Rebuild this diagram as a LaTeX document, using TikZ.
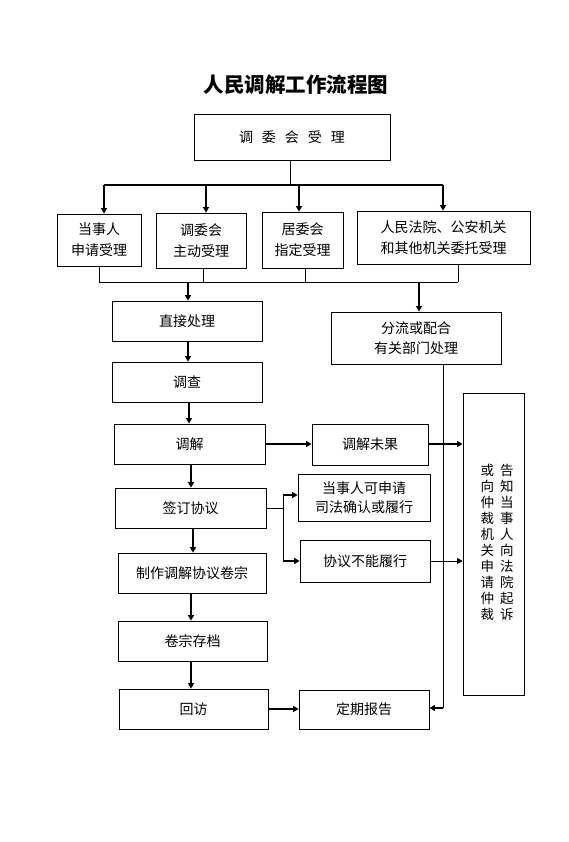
\documentclass[tikz,border=0pt]{standalone}
\usepackage{fontspec}
\newfontfamily\cjk{Noto Sans CJK SC}
\usetikzlibrary{arrows.meta}
\begin{document}
\begin{tikzpicture}[x=1pt,y=-1pt,
  box/.style={draw, line width=0.8pt, inner sep=0pt, font=\cjk\fontsize{14}{21}\selectfont, align=center},
  thinln/.style={line width=0.8pt},
  thickln/.style={line width=1.8pt},
  arr/.style={line width=1.8pt, -{Triangle[length=5.5pt,width=6pt]}},
  arrthin/.style={line width=0.8pt, -{Triangle[length=5.5pt,width=6pt]}},
]
\useasboundingbox (0,0) rectangle (569,842);
\node[font=\cjk\bfseries\fontsize{20.5}{24}\selectfont] (title) at (296,85) {人民调解工作流程图};

\node[box, minimum width=196pt, minimum height=46pt] (top) at (292,137) {调\hspace{9pt}委\hspace{9pt}会\hspace{9pt}受\hspace{9pt}理};
\node[box, minimum width=84pt, minimum height=52pt] (A) at (99,240) {当事人\\申请受理};
\node[box, minimum width=90pt, minimum height=55pt] (B) at (201,240.5) {调委会\\主动受理};
\node[box, minimum width=81pt, minimum height=56pt] (C) at (302.5,240) {居委会\\指定受理};
\node[box, minimum width=173pt, minimum height=53pt] (D) at (443.5,237.5) {人民法院、公安机关\\和其他机关委托受理};
\node[box, minimum width=150pt, minimum height=40pt] (E) at (187,321) {直接处理};
\node[box, minimum width=170pt, minimum height=52pt, font=\cjk\fontsize{14}{19.5}\selectfont] (F) at (416,338) {分流或配合\\有关部门处理};
\node[box, minimum width=150pt, minimum height=40pt] (G) at (187,382) {调查};
\node[box, minimum width=151pt, minimum height=40pt] (H) at (189.5,444) {调解};
\node[box, minimum width=116pt, minimum height=41pt] (I) at (370,444.5) {调解未果};
\node[box, minimum width=61pt, minimum height=302pt, font=\cjk\fontsize{13.5}{15.2}\selectfont] (J) at (493.5,544)
  {\begin{tabular}{@{\hspace{7pt}}c@{\hspace{6pt}}c@{}}
   或&告\\ 向&知\\ 仲&当\\ 裁&事\\ 机&人\\ 关&向\\ 申&法\\ 请&院\\ 仲&起\\ 裁&诉
   \end{tabular}};
\node[box, minimum width=151pt, minimum height=40pt] (K) at (190.5,508) {签订协议};
\node[box, minimum width=132pt, minimum height=47pt, font=\cjk\fontsize{14}{19.5}\selectfont] (L) at (364,497.5) {当事人可申请\\司法确认或履行};
\node[box, minimum width=130pt, minimum height=42pt] (M) at (365,561) {协议不能履行};
\node[box, minimum width=148pt, minimum height=40pt] (N) at (192,573) {制作调解协议卷宗};
\node[box, minimum width=149pt, minimum height=40pt] (O) at (192.5,641) {卷宗存档};
\node[box, minimum width=149pt, minimum height=40pt] (P) at (193.5,709) {回访};
\node[box, minimum width=130pt, minimum height=39pt] (Q) at (364,709.5) {定期报告};

% top distribution
\coordinate (t) at (290,185);
\coordinate (h1) at (104,185);
\coordinate (h2) at (206,185);
\coordinate (h3) at (299,185);
\coordinate (h4) at (443,185);
\draw[thinln] (top.south -| t) -- (t);
\draw[thickln] (h1) -- (h4);
\draw[arr] (h1) -- (h1 |- A.north);
\draw[arr] (h2) -- (h2 |- B.north);
\draw[arr] (h3) -- (h3 |- C.north);
\draw[arr] (h4) -- (h4 |- D.north);

% collect
\coordinate (b1) at (99,282);
\coordinate (b2) at (203,282);
\coordinate (b3) at (305,282);
\coordinate (b4) at (458,282);
\coordinate (e1) at (188,282);
\coordinate (f1) at (419,282);
\draw[thinln] (A.south -| b1) -- (b1);
\draw[thinln] (B.south -| b2) -- (b2);
\draw[thinln] (C.south -| b3) -- (b3);
\draw[thinln] (D.south -| b4) -- (b4);
\draw[thinln] (b1) -- (b4);
\draw[arr] (e1) -- (e1 |- E.north);
\draw[arr] (f1) -- (f1 |- F.north);

% main column
\draw[arr] (E.south -| e1) -- (e1 |- G.north);
\coordinate (c2) at (189,0);
\coordinate (c3) at (191,0);
\coordinate (c4) at (193,0);
\draw[arr] (G.south -| c2) -- (c2 |- H.north);
\draw[arr] (H.south -| c3) -- (c3 |- K.north);
\draw[arr] (K.south -| c4) -- (c4 |- N.north);
\draw[arr] (N.south -| c3) -- (c3 |- O.north);
\draw[arr] (O.south -| c3) -- (c3 |- P.north);

% branches
\draw[arr] (H.east) -- (H.east -| I.west);
\draw[arr] (I.east |- H.east) -- (H.east -| J.west);
\coordinate (k1) at (283,508);
\coordinate (k2) at (283,495);
\coordinate (k3) at (283,561);
\draw[thinln] (K.east |- k1) -- (k1);
\draw[thinln] (k2) -- (k3);
\draw[arr] (k2) -- (k2 -| L.west);
\draw[arr] (k3) -- (k3 -| M.west);
\draw[arrthin] (M.east |- k3) -- (k3 -| J.west);

% right side
\coordinate (g0) at (443,364);
\coordinate (g1) at (443,708);
\draw[thinln] (F.south -| g0) -- (g1);
\draw[arr] (g1) -- (g1 -| Q.east);
\draw[arr] (P.east) -- (P.east -| Q.west);
\end{tikzpicture}
\end{document}
